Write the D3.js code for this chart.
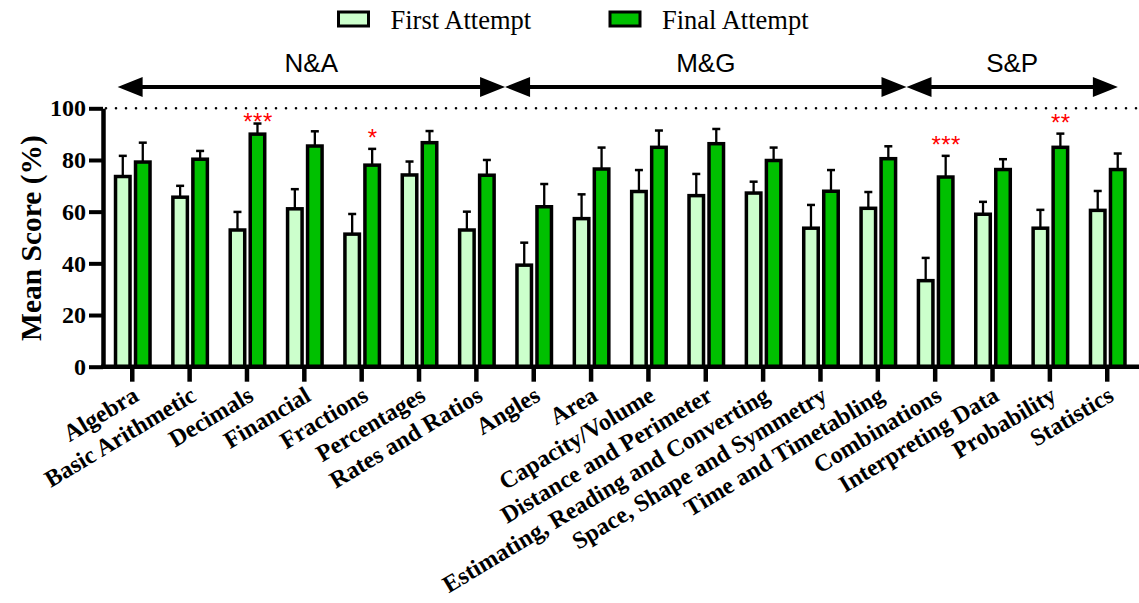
<!DOCTYPE html>
<html><head><meta charset="utf-8">
<script src="https://cdn.jsdelivr.net/npm/d3@7"></script>
<style>
html,body{margin:0;padding:0;background:#fff;}
svg{display:block;}
</style></head>
<body>
<svg id="chart" width="1139" height="603"></svg>
<script>
const categories = ["Algebra","Basic Arithmetic","Decimals","Financial","Fractions","Percentages","Rates and Ratios","Angles","Area","Capacity/Volume","Distance and Perimeter","Estimating, Reading and Converting","Space, Shape and Symmetry","Time and Timetabling","Combinations","Interpreting Data","Probability","Statistics"];
const firstAttempt = [73.6,65.6,52.9,61.1,51.3,74.2,52.9,39.3,57.3,67.8,66.2,67.2,53.6,61.3,33.3,59.0,53.6,60.5];
const firstErr     = [8.0,4.4,7.0,7.6,7.8,5.2,7.1,8.7,9.4,8.3,8.4,4.4,9.0,6.3,8.8,4.8,7.1,7.5];
const finalAttempt = [79.2,80.3,90.0,85.4,78.0,86.7,74.1,61.9,76.5,84.9,86.3,79.8,67.9,80.5,73.4,76.3,84.9,76.3];
const finalErr     = [7.5,3.2,4.1,5.7,6.3,4.5,5.9,8.8,8.3,6.5,5.7,5.0,8.2,4.8,8.2,4.0,5.3,6.2];
const significance = ["","","***","","*","","","","","","","","","","***","","**",""];
const seriesNames = ["First Attempt","Final Attempt"];
const seriesColors = ["#ccffcc","#00c000"];
const groupNames = ["N&A","M&G","S&P"];
const groupStart = [0,7,14];
const groupEnd = [6,13,17];
const yTicks = [0,20,40,60,80,100];

const svg = d3.select("#chart");
const serif = "'Liberation Serif','Times New Roman',serif";
const sans = "'Liberation Sans',Arial,sans-serif";

const axisX = 103, axisY0 = 366.7, axisY100 = 108.3;
const x0 = d3.scaleBand().domain(categories).range([103.6, 1135.9]).padding(0);
const xSub = d3.scaleBand().domain(seriesNames).range([-18.5, 19.5]).paddingInner(0.1);
const y = d3.scaleLinear().domain([0,100]).range([axisY0, axisY100]);
const center = c => x0(c) + x0.bandwidth()/2;

const sw = 3.5;
const data = categories.map((c,i)=>({c, vals:[
  {s:seriesNames[0], v:firstAttempt[i], e:firstErr[i], col:seriesColors[0]},
  {s:seriesNames[1], v:finalAttempt[i], e:finalErr[i], col:seriesColors[1]}
], sig:significance[i]}));

// dotted 100 line
svg.append("line").attr("x1", axisX+3).attr("x2", 1139).attr("y1", y(100)).attr("y2", y(100))
  .attr("stroke","#000").attr("stroke-width",2.6).attr("stroke-dasharray","0,10").attr("stroke-linecap","round");

const g = svg.append("g");
data.forEach(d=>{
  d.vals.forEach(s=>{
    const cx = center(d.c) + xSub(s.s) + xSub.bandwidth()/2;
    g.append("line").attr("x1",cx).attr("x2",cx).attr("y1",y(s.v)).attr("y2",y(s.v+s.e))
      .attr("stroke","#000").attr("stroke-width",2.3);
    g.append("line").attr("x1",cx-4).attr("x2",cx+4).attr("y1",y(s.v+s.e)).attr("y2",y(s.v+s.e))
      .attr("stroke","#000").attr("stroke-width",2.5);
  });
});
data.forEach(d=>{
  d.vals.forEach(s=>{
    const bx = center(d.c) + xSub(s.s) + sw/2;
    g.append("rect").attr("x",bx).attr("width",xSub.bandwidth()-sw)
      .attr("y",y(s.v)).attr("height",y(0)-y(s.v))
      .attr("fill",s.col).attr("stroke","#000").attr("stroke-width",sw);
  });
});
data.forEach(d=>{
  if(!d.sig) return;
  const s = d.vals[1];
  const cx = center(d.c) + xSub(s.s) + xSub.bandwidth()/2;
  const cy = Math.max(y(s.v+s.e)-15, y(100)+9);
  svg.append("text").attr("x",cx+0.5).attr("y",cy+12.5).attr("text-anchor","middle")
    .attr("font-family",sans).attr("font-size",24).attr("letter-spacing",0.5).attr("fill","#ff0000").text(d.sig);
});

// Y axis
const yAxis = svg.append("g").attr("transform",`translate(${axisX},0)`)
  .call(d3.axisLeft(y).tickValues(yTicks).tickSize(14).tickSizeOuter(0).tickPadding(3));
yAxis.select(".domain").attr("stroke","#000").attr("stroke-width",4.5);
yAxis.selectAll(".tick line").attr("stroke","#000").attr("stroke-width",4);
yAxis.selectAll(".tick text").attr("font-family",serif).attr("font-weight","bold").attr("font-size",24).attr("fill","#000");

// X axis
const xAxis = svg.append("g").attr("transform",`translate(0,${axisY0})`)
  .call(d3.axisBottom(x0).tickSize(15).tickSizeOuter(0));
xAxis.select(".domain").remove();
xAxis.append("line").attr("x1",axisX-2).attr("x2",1139).attr("y1",0).attr("y2",0).attr("stroke","#000").attr("stroke-width",4.5);
xAxis.selectAll(".tick line").attr("stroke","#000").attr("stroke-width",4.5);
xAxis.selectAll(".tick text").attr("font-family",serif).attr("font-weight","bold").attr("font-size",24).attr("fill","#000")
  .attr("text-anchor","end").attr("x",null).attr("y",null).attr("dy",null)
  .attr("transform","translate(8,33) rotate(-31)");

// Y title
svg.append("text").attr("transform","translate(41,238) rotate(-90)").attr("text-anchor","middle")
  .attr("font-family",serif).attr("font-weight","bold").attr("font-size",29.5).text("Mean Score (%)");

// group arrows
const arrowY = 87, headL = 25, headH = 10;
groupNames.forEach((name,i)=>{
  let xa = x0(categories[groupStart[i]]);
  let xb = x0(categories[groupEnd[i]]) + x0.bandwidth();
  if(i===0) xa += 14;
  if(i===groupNames.length-1) xb -= 18;
  svg.append("line").attr("x1",xa+headL-2).attr("x2",xb-headL+2).attr("y1",arrowY).attr("y2",arrowY)
    .attr("stroke","#000").attr("stroke-width",4);
  svg.append("path").attr("d",`M${xa},${arrowY} L${xa+headL},${arrowY-headH} L${xa+headL},${arrowY+headH} Z`).attr("fill","#000");
  svg.append("path").attr("d",`M${xb},${arrowY} L${xb-headL},${arrowY-headH} L${xb-headL},${arrowY+headH} Z`).attr("fill","#000");
  svg.append("text").attr("x",(xa+xb)/2).attr("y",71.5).attr("text-anchor","middle")
    .attr("font-family",sans).attr("font-size",26).attr("fill","#000").text(name);
});

// legend
const legendX = [338.5, 610];
seriesNames.forEach((n,i)=>{
  svg.append("rect").attr("x",legendX[i]).attr("y",12).attr("width",30).attr("height",14)
    .attr("fill",seriesColors[i]).attr("stroke","#000").attr("stroke-width",3);
  svg.append("text").attr("x",legendX[i]+52).attr("y",29).attr("font-family",serif).attr("font-size",26.5)
    .attr("fill","#000").text(n);
});
</script>
</body></html>
